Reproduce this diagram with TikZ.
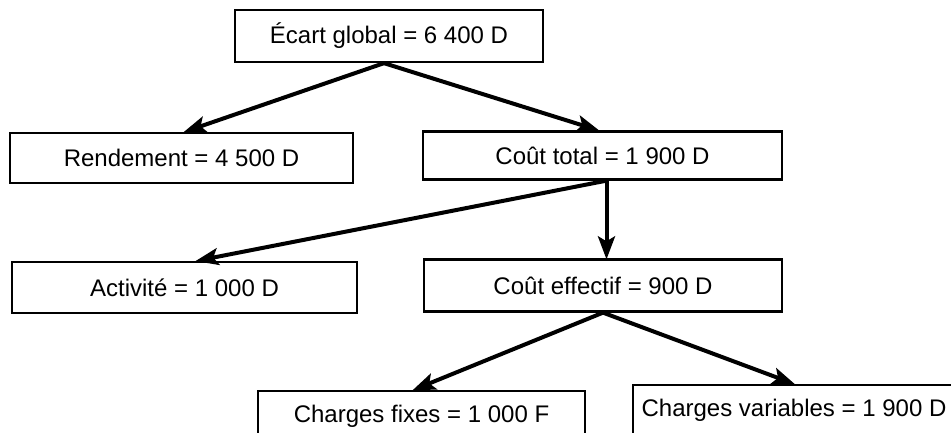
\documentclass[tikz,border=0pt]{standalone}
\usepackage{fontspec}
\setmainfont{Liberation Sans}
\usetikzlibrary{arrows.meta}
\begin{document}
\begin{tikzpicture}[x=1pt,y=1pt,
  box/.style={draw, line width=2.3pt, minimum height=50pt, inner sep=0pt, font=\fontsize{24}{28}\selectfont},
  arr/.style={line width=4pt, -{Stealth[length=23pt,width=17pt,inset=5pt]}, shorten >=-1pt}]
\clip (0,0) rectangle (951,432);
\fill[white] (0,0) rectangle (951,432);
\node[box, minimum width=308pt, minimum height=52pt] (top) at (389,396) {Écart global = 6 400 D};
\node[box, minimum width=343pt] (rend) at (181.5,274) {Rendement = 4 500 D};
\node[box, minimum width=359pt, minimum height=48pt] (ct) at (602.5,276.5) {Coût total = 1 900 D};
\node[box, minimum width=345pt, minimum height=51pt] (act) at (184.5,144.5) {Activité = 1 000 D};
\node[box, minimum width=358pt, minimum height=52pt] (ce) at (603,146.5) {Coût effectif = 900 D};
\node[box, minimum width=327pt] (cf) at (421.5,16) {Charges fixes = 1 000 F};
\node[box, minimum width=322pt] (cv) at (794,22) {Charges variables = 1 900 D};
\path (top.south) ++(-5,0) coordinate (t0);
\draw[arr] (t0) -- ([xshift=3pt]rend.north);
\draw[arr] (t0) -- ([xshift=-4pt]ct.north);
\path (ct.south) ++(4,0) coordinate (c0);
\draw[arr] (c0) -- ([xshift=12pt]act.north);
\draw[arr] (c0) -- (c0 |- ce.north);
\draw[arr] (ce.south) -- ([xshift=-8pt]cf.north);
\draw[arr] (ce.south) -- (cv.north);
\end{tikzpicture}
\end{document}
